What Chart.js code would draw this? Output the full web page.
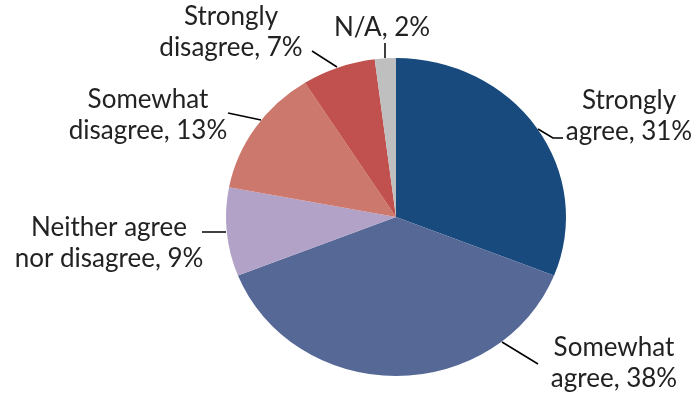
<!DOCTYPE html>
<html lang="en">
<head>
  <meta charset="UTF-8" />
  <title>Survey responses</title>
  <script src="https://cdn.jsdelivr.net/npm/chart.js"></script>
  <style>
    html, body { margin: 0; padding: 0; background: #fff; }
    .wrap { width: 700px; height: 393px; position: relative; }
  </style>
</head>
<body>
  <div class="wrap"><canvas id="pie" width="700" height="393"></canvas></div>
  <script>
    // answers, clockwise from 12 o'clock
    const categories = ['Strongly agree', 'Somewhat agree', 'Neither agree nor disagree', 'Somewhat disagree', 'Strongly disagree', 'N/A'];
    const percents = [31, 38, 9, 13, 7, 2];
    const sliceColors = ['#184a7e', '#556896', '#b2a2c7', '#cd786d', '#c0514e', '#bfbfbf'];

    // where each label sits (center x, first line y), how many words on line 1, leader polyline
    const labelLayout = [
      { x: 629, y: 101, words: 1, leader: [[538, 129], [553, 138], [563, 138]] },
      { x: 614, y: 348, words: 1, leader: [[502, 342], [538, 364]] },
      { x: 109, y: 228, words: 2, leader: [[202, 232], [226, 232]] },
      { x: 148, y: 100, words: 1, leader: [[228, 113], [261, 120]] },
      { x: 231, y: 17,  words: 1, leader: [[312, 51], [337, 67]] },
      { x: 382, y: 28,  words: 0, leader: [[385, 43], [385, 58]] }
    ];

    // the original pie is a touch wider than tall
    const stretchX = 170 / 159;

    const stretchPlugin = {
      id: 'stretch',
      beforeDatasetsDraw(chart) {
        const arc = chart.getDatasetMeta(0).data[0];
        const c = chart.ctx;
        c.save();
        c.translate(arc.x, arc.y);
        c.scale(stretchX, 1);
        c.translate(-arc.x, -arc.y);
      },
      afterDatasetsDraw(chart) {
        chart.ctx.restore();
      }
    };

    const labelPlugin = {
      id: 'labels',
      afterDraw(chart) {
        const c = chart.ctx;
        c.save();
        c.strokeStyle = '#000';
        c.lineWidth = 1.5;
        c.fillStyle = '#222';
        c.font = '26px Lato, "Open Sans", sans-serif';
        c.textAlign = 'center';
        c.textBaseline = 'middle';
        categories.forEach((name, i) => {
          const l = labelLayout[i];
          c.beginPath();
          l.leader.forEach((p, k) => k ? c.lineTo(p[0], p[1]) : c.moveTo(p[0], p[1]));
          c.stroke();
          const text = name + ', ' + percents[i] + '%';
          let lines = [text];
          if (l.words > 0) {
            const w = text.split(' ');
            lines = [w.slice(0, l.words).join(' '), w.slice(l.words).join(' ')];
          }
          lines.forEach((t, k) => c.fillText(t, l.x, l.y + k * 31));
        });
        c.restore();
      }
    };

    new Chart(document.getElementById('pie'), {
      type: 'pie',
      data: {
        labels: categories,
        datasets: [{
          data: percents,
          backgroundColor: sliceColors,
          borderWidth: 0,
          hoverOffset: 0,
          clip: false
        }]
      },
      options: {
        responsive: false,
        animation: false,
        events: [],
        radius: 159,
        layout: { padding: { left: 237, right: 145, top: 58, bottom: 17 } },
        plugins: {
          legend: { display: false },
          tooltip: { enabled: false }
        }
      },
      plugins: [stretchPlugin, labelPlugin]
    });
  </script>
</body>
</html>
